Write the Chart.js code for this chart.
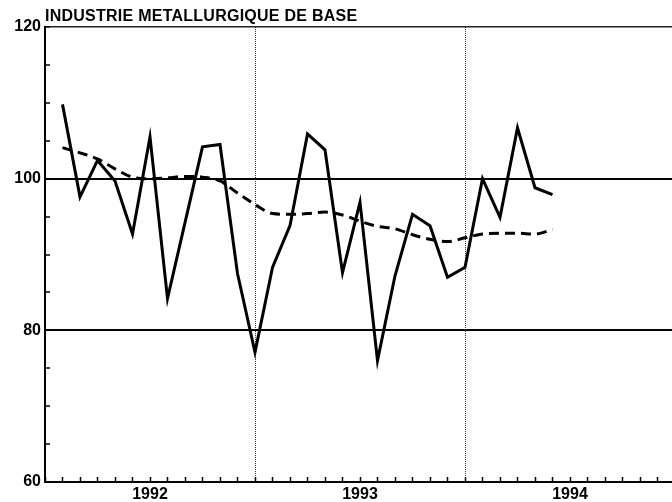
<!DOCTYPE html>
<html>
<head>
<meta charset="utf-8">
<script src="https://cdn.jsdelivr.net/npm/chart.js@4.4.1/dist/chart.umd.min.js"></script>
<style>
  html, body { margin: 0; padding: 0; background: #fff; overflow: hidden; }
  #wrap { width: 672px; height: 502px; overflow: hidden; }
</style>
</head>
<body>
<div id="wrap"><canvas id="chart" width="675" height="502"></canvas></div>
<script>
// Indice de production - industrie métallurgique de base, 1992-1994 (mensuel)
const titre = 'INDUSTRIE METALLURGIQUE DE BASE';
const annees = ['1992', '1993', '1994'];
// mois comptés depuis janvier 1992 (1 = fin janvier 1992)
const mois = [1, 2, 3, 4, 5, 6, 7, 8, 9, 10, 11, 12,
              13, 14, 15, 16, 17, 18, 19, 20, 21, 22, 23, 24,
              25, 26, 27, 28, 29];
const indice = [109.8, 97.6, 102.4, 99.7, 92.7, 105.5, 84.2, 94.2, 104.2, 104.5, 87.5, 77.1,
                88.3, 93.8, 105.9, 103.8, 87.6, 96.9, 76.0, 87.2, 95.3, 93.8, 87.0, 88.3,
                100.0, 94.9, 106.7, 98.8, 97.9];
const tendance = [104.1, 103.4, 102.6, 101.3, 100.2, 100.0, 100.1, 100.3, 100.2, 99.7, 98.1, 96.6,
                  95.4, 95.3, 95.4, 95.6, 95.2, 94.4, 93.7, 93.4, 92.6, 92.0, 91.7, 92.2,
                  92.7, 92.8, 92.8, 92.7, 93.3];
const yLabels = [60, 80, 100, 120];

const FONT = 'Liberation Sans, Arial, Helvetica, sans-serif';

const titrePlugin = {
    id: 'titre',
    afterDraw(chart) {
        const ctx = chart.ctx;
        ctx.save();
        ctx.font = 'bold 16px ' + FONT;
        ctx.letterSpacing = '0.25px';
        ctx.fillStyle = '#000';
        ctx.textAlign = 'left';
        ctx.textBaseline = 'alphabetic';
        ctx.fillText(titre, chart.chartArea.left, 21);
        ctx.restore();
    }
};

new Chart(document.getElementById('chart'), {
    type: 'line',
    data: {
        datasets: [
            {
                label: 'Indice',
                data: mois.map((m, i) => ({ x: m, y: indice[i] })),
                borderColor: '#000',
                borderWidth: 3,
                pointRadius: 0,
                tension: 0,
                borderJoinStyle: 'miter'
            },
            {
                label: 'Tendance',
                data: mois.map((m, i) => ({ x: m, y: tendance[i] })),
                borderColor: '#000',
                borderWidth: 3,
                borderDash: [10, 6],
                pointRadius: 0,
                cubicInterpolationMode: 'monotone'
            }
        ]
    },
    options: {
        responsive: false,
        animation: false,
        devicePixelRatio: 1,
        layout: { padding: { top: 27, left: 0, right: 0, bottom: 0 } },
        plugins: { legend: { display: false }, tooltip: { enabled: false }, title: { display: false } },
        scales: {
            x: {
                type: 'linear',
                min: 0,
                max: 36,
                afterFit: s => { s.height = 20; s.paddingLeft = 0; s.paddingRight = 0; },
                ticks: {
                    stepSize: 1,
                    autoSkip: false,
                    maxRotation: 0,
                    padding: 8,
                    color: '#000',
                    font: { family: FONT, size: 16, weight: 'bold' },
                    callback: v => (v % 12 === 6 ? annees[(v - 6) / 12] : '')
                },
                grid: {
                    drawOnChartArea: true,
                    drawTicks: true,
                    tickLength: -5,
                    tickColor: '#000',
                    tickWidth: 1.5,
                    color: c => (c.tick && c.tick.value % 12 === 0 && c.tick.value > 0 && c.tick.value < 36 ? '#333' : 'transparent'),
                    lineWidth: 1
                },
                border: { display: true, color: '#000', width: 2, dash: [1, 1] }
            },
            y: {
                min: 60,
                max: 120,
                afterFit: s => { s.width = 45; },
                ticks: {
                    stepSize: 5,
                    padding: 9,
                    color: '#000',
                    font: { family: FONT, size: 16, weight: 'bold' },
                    callback: v => (yLabels.includes(v) ? String(v) : '')
                },
                grid: {
                    drawTicks: true,
                    tickLength: -5,
                    tickColor: '#000',
                    tickWidth: 1.5,
                    color: c => (c.tick && (c.tick.value === 80 || c.tick.value === 100) ? '#000' : (c.tick && c.tick.value === 120 ? '#222' : 'transparent')),
                    lineWidth: c => (c.tick && c.tick.value === 120 ? 1.5 : 2)
                },
                border: { display: true, color: '#000', width: 2 }
            }
        }
    },
    plugins: [titrePlugin]
});
</script>
</body>
</html>
